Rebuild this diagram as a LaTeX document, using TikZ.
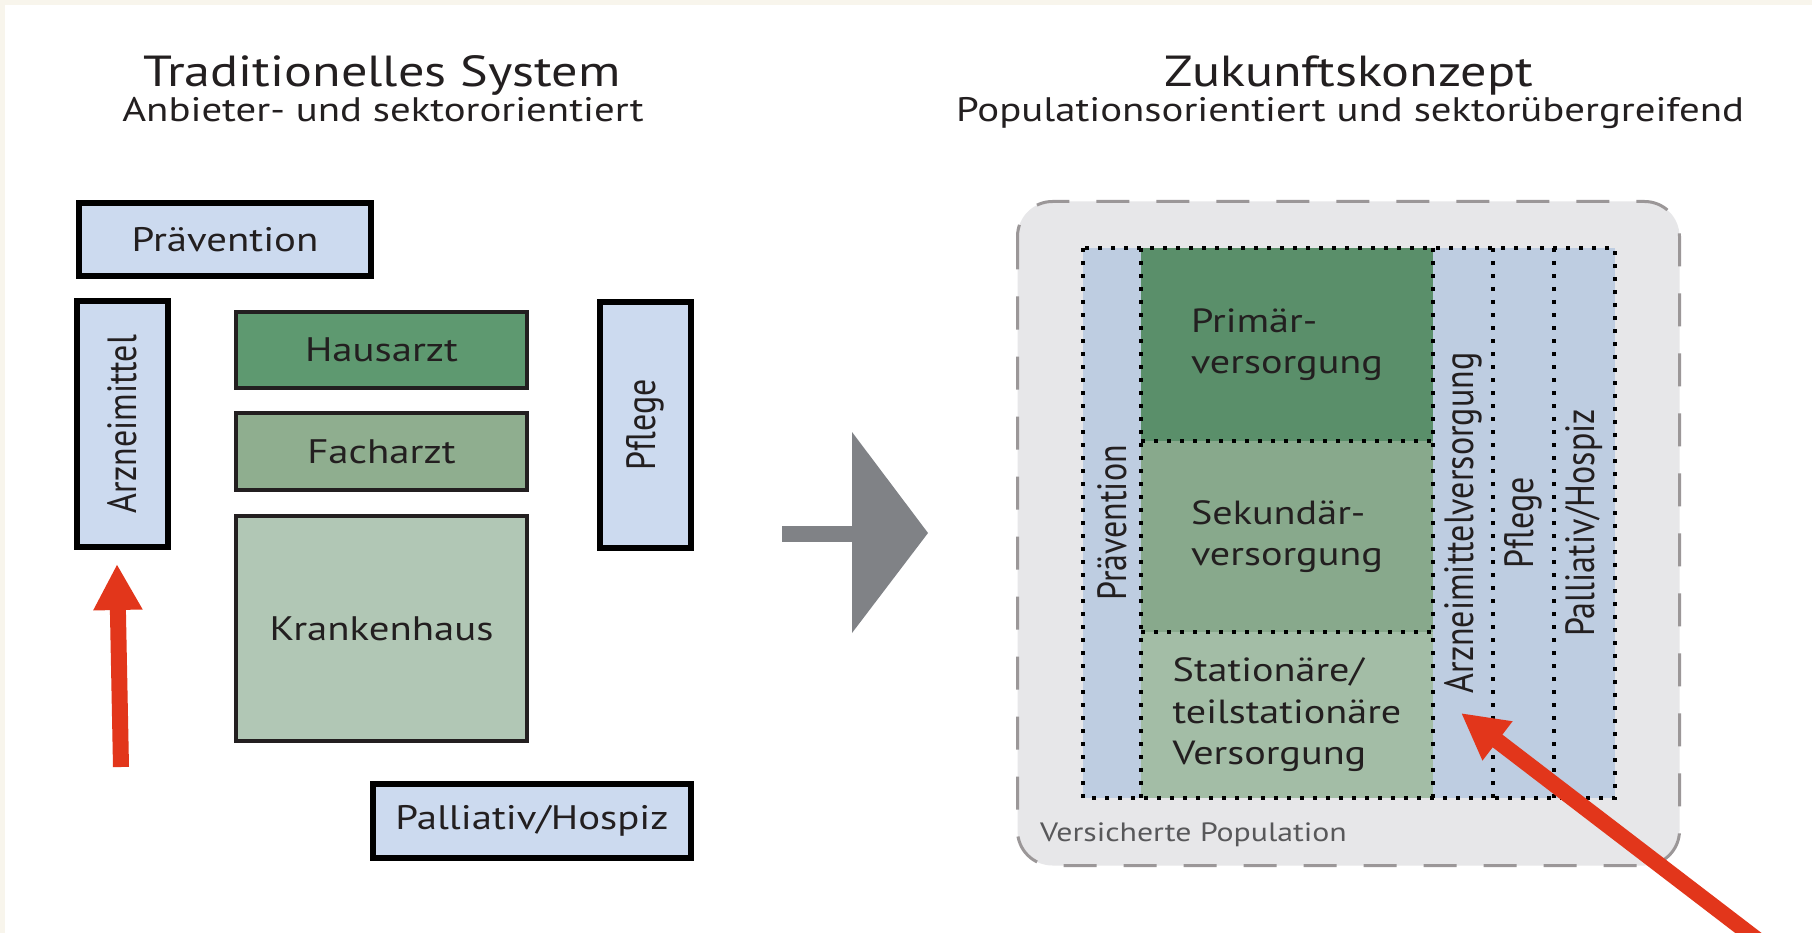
\documentclass[tikz,border=0pt]{standalone}
\usepackage{graphicx}
\usepackage{fontspec}
\setmainfont{PT Sans}[FakeStretch=1.2]
\newfontfamily\plainface{PT Sans}
\usetikzlibrary{arrows.meta}
\definecolor{frameCream}{RGB}{248,245,236}
\definecolor{boxBlue}{RGB}{204,218,239}
\definecolor{colBlue}{RGB}{190,205,225}
\definecolor{greenDark}{RGB}{94,153,112}
\definecolor{greenMid}{RGB}{143,174,143}
\definecolor{greenLight}{RGB}{177,199,181}
\definecolor{primGreen}{RGB}{90,143,106}
\definecolor{sekGreen}{RGB}{136,169,140}
\definecolor{statGreen}{RGB}{163,189,166}
\definecolor{popGrey}{RGB}{231,231,233}
\definecolor{dashGrey}{RGB}{155,151,152}
\definecolor{arrowGrey}{RGB}{128,130,134}
\definecolor{markRed}{RGB}{226,54,27}
\definecolor{inkBlack}{RGB}{35,31,32}
\definecolor{labelGrey}{RGB}{88,88,90}
\newcommand{\sizeto}[2]{\fontsize{#1pt}{#2pt}\selectfont}
\newcommand{\tallword}[1]{{\plainface\scalebox{1}[1.2]{#1}}}
\tikzset{
  redarrow/.style={draw=markRed, line width=16pt, -{Triangle[length=46pt,width=46pt]}},
  gridline/.style={draw=black, line width=4pt, dash pattern=on 4pt off 9pt}
}

\begin{document}
\begin{tikzpicture}[x=1pt, y=-1pt, text=inkBlack]
		% Background
		\clip (0,0) rectangle (1812,933);
		\fill[frameCream] (0,0) rectangle (1812,933);
		\fill[white] (5,5) rectangle (1812,933);
		
		% Headings
		\node[anchor=base, font=\sizeto{43.5}{50}] (oldtitle) at (382,87) {Traditionelles System};
		\node[anchor=base, font=\sizeto{34}{40}] (oldsub) at (383,122) {Anbieter- und sektororientiert};
		\node[anchor=base, font=\sizeto{43.5}{50}] (newtitle) at (1349,87) {Zukunftskonzept};
		\node[anchor=base, font=\sizeto{34}{40}] (newsub) at (1350,122) {Populationsorientiert und sektorübergreifend};
		
		% Traditional system: blue boxes
		\begin{scope}[every node/.style={draw=black, line width=6pt, fill=boxBlue, inner sep=0pt, font=\sizeto{34}{40}}]
			\node[minimum width=292pt, minimum height=73pt] (praev) at (225,239.5) {Prävention};
			\node[rotate=90, minimum width=246pt, minimum height=91pt] (arznei) at (122.5,424) {\tallword{Arzneimittel}};
			\node[rotate=90, minimum width=246pt, minimum height=91pt] (pflege) at (645.5,425) {\tallword{Pflege}};
			\node[minimum width=318pt, minimum height=74pt] (palliativ) at (532,821) {Palliativ/Hospiz};
		\end{scope}
		
		% Traditional system: green boxes
		\begin{scope}[every node/.style={draw=inkBlack, line width=4pt, inner sep=0pt, minimum width=291pt, font=\sizeto{34}{40}}]
			\node[fill=greenDark, minimum height=76pt] (hausarzt) at (381.5,350) {Hausarzt};
			\node[fill=greenMid, minimum height=77pt] (facharzt) at (381.5,451.5) {Facharzt};
			\node[fill=greenLight, minimum height=225pt] (krankenhaus) at (381.5,628.5) {Krankenhaus};
		\end{scope}
		
		% Grey arrow
		\fill[arrowGrey] (782,526) rectangle (853,542);
		\fill[arrowGrey] (852,432) -- (928,533) -- (852,633) -- cycle;
		
		% Future concept: population frame
		\draw[draw=dashGrey, fill=popGrey, line width=3pt, dash pattern=on 33pt off 27pt, rounded corners=35pt] (1017.5,201.5) rectangle (1679.5,865.5);
		\node[anchor=base west, text=labelGrey, inner sep=0pt, font=\sizeto{26.5}{32}] (versichert) at (1040,841) {Versicherte Population};
		
		% Future concept: columns
		\begin{scope}[every node/.style={fill=colBlue, rotate=90, inner sep=0pt, minimum width=550pt, font=\sizeto{34}{40}}]
			\node[minimum height=58pt] (praevcol) at (1112,523) {\tallword{Prävention}};
			\node[minimum height=60pt] (arzneicol) at (1463,523) {\tallword{Arzneimittelversorgung}};
			\node[minimum height=61pt] (pflegecol) at (1523.5,523) {\tallword{Pflege}};
			\node[minimum height=61pt] (palliativcol) at (1584.5,523) {\tallword{Palliativ/Hospiz}};
		\end{scope}
		
		% Future concept: care levels
		\begin{scope}[every node/.style={inner sep=0pt, minimum width=292pt, align=left, font=\sizeto{33.5}{41.5}}]
			\node[fill=primGreen, minimum height=193pt] (primaer) at (1287,344.5) {Primär-\\versorgung};
			\node[fill=sekGreen, minimum height=191pt] (sekundaer) at (1287,536.5) {Sekundär-\\versorgung};
			\node[fill=statGreen, minimum height=166pt] (stationaer) at (1287,715) {Stationäre/\\teilstationäre\\Versorgung};
		\end{scope}
		
		% Dotted grid
		\draw[gridline] (1083,248) rectangle (1615,798);
		\foreach \x in {1141,1433,1493,1554}
			\draw[gridline] (\x,248) -- (\x,798);
		\draw[gridline] (primaer.south west) -- (primaer.south east);
		\draw[gridline] (sekundaer.south west) -- (sekundaer.south east);
		
		% Red markers
		\coordinate (leftfoot) at (121,767);
		\coordinate (lefttip) at (117,564);
		\coordinate (rightfoot) at (1768,948);
		\coordinate (righttip) at (1461,713);
		\draw[redarrow] (leftfoot) -- (lefttip);
		\draw[redarrow] (rightfoot) -- (righttip);
	\end{tikzpicture}
\end{document}
